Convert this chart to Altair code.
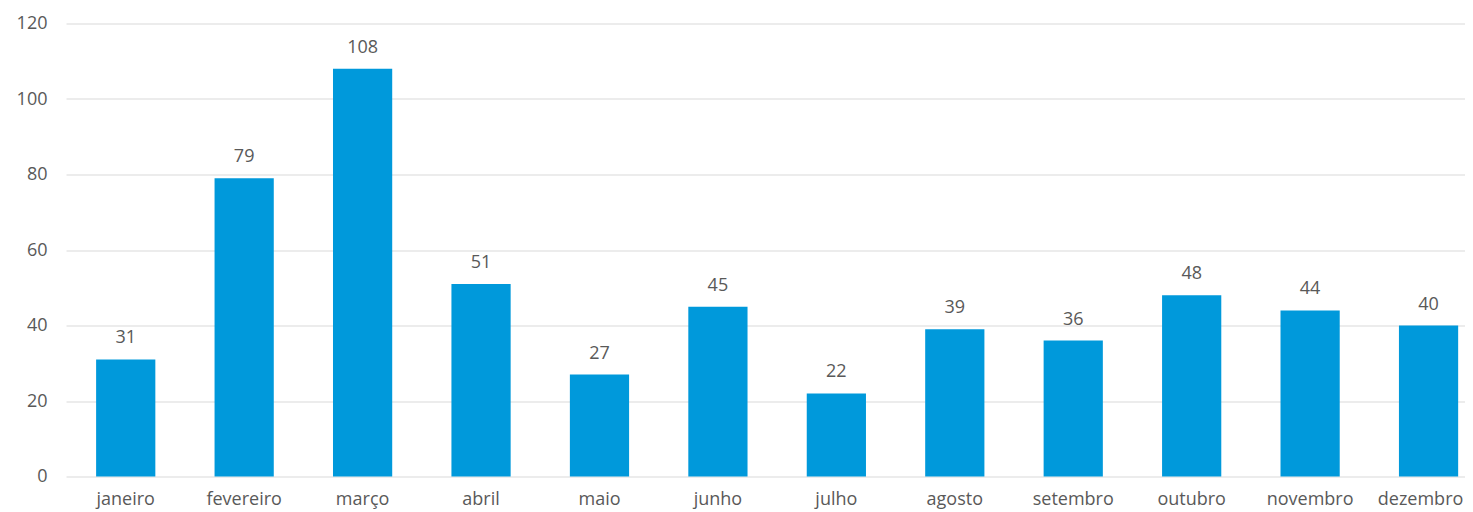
import altair as alt
import pandas as pd

months = ["janeiro", "fevereiro", "março", "abril", "maio", "junho",
          "julho", "agosto", "setembro", "outubro", "novembro", "dezembro"]
values = [31, 79, 108, 51, 27, 45, 22, 39, 36, 48, 44, 40]
y_ticks = [0, 20, 40, 60, 80, 100, 120]

df = pd.DataFrame({"mes": months, "valor": values})

FONT = "Open Sans"
TXT = "#595959"
BAR = "#0099DB"

x = alt.X("mes:N", sort=months, title=None,
          scale=alt.Scale(paddingInner=0.5, paddingOuter=0.156, align=0.815),
          axis=alt.Axis(labelAngle=0, ticks=False, domain=False, labelPadding=14,
                        labelFont=FONT, labelFontSize=18, labelColor=TXT,
                        labelOffset={"condition": {"test": "datum.value == 'dezembro'",
                                                   "value": -8},
                                     "value": 0}))
y = alt.Y("valor:Q", title=None,
          scale=alt.Scale(domain=[0, 120], nice=False),
          axis=alt.Axis(values=y_ticks, ticks=False, domain=False, labelPadding=19,
                        labelFont=FONT, labelFontSize=18, labelColor=TXT,
                        grid=True, gridColor="#D9D9D9", gridWidth=1))

base = alt.Chart(df)
bars = base.mark_bar(color=BAR).encode(x=x, y=y)
labels = base.mark_text(font=FONT, fontSize=18, color=TXT, baseline="alphabetic",
                        dy=-16).encode(x=x, y=y, text="valor:Q")

chart = (bars + labels).properties(
    width=1399, height=453,
    autosize=alt.AutoSizeParams(type="none"),
    padding={"left": 58, "top": 15.5, "right": 0, "bottom": 35},
).configure_view(stroke=None)

chart.save("out.html", embed_options={"renderer": "svg", "actions": False})
